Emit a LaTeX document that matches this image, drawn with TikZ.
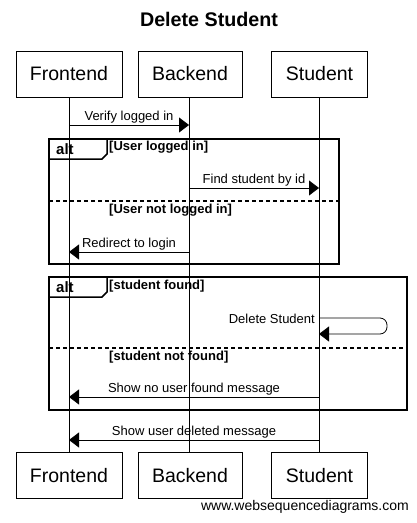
\documentclass[tikz,border=0pt]{standalone}
\usepackage{fontspec}
\setmainfont{Liberation Sans}
\usetikzlibrary{arrows.meta,positioning}

\begin{document}
\begin{tikzpicture}[x=1pt,y=-1pt,
        thin line/.style={line width=0.8pt},
        actor/.style={draw,line width=0.8pt,minimum height=46pt,inner xsep=14pt,font=\fontsize{19.5}{21}\selectfont},
        msg/.style={line width=0.8pt,-{Triangle[length=10pt,width=15pt]}},
        msg label/.style={above,inner sep=1.5pt,font=\fontsize{13}{14}\selectfont},
        frame/.style={line width=1.5pt},
        divider/.style={line width=1.5pt,dash pattern=on 4pt off 3pt},
        guard/.style={anchor=base west,inner sep=0pt,font=\bfseries\fontsize{13}{14}\selectfont}]

    \useasboundingbox (0,0) rectangle (417,523);

    \node[anchor=base,font=\bfseries\fontsize{19.7}{21}\selectfont] (title) at (209,26.5) {Delete Student};

    % participants
    \node[actor] (frontend) at (69,74) {Frontend};
    \node[actor] (backend) at (190,74) {Backend};
    \node[actor] (student) at (319.5,74) {Student};
    \node[actor] (frontend bottom) at (69,475.5) {Frontend};
    \node[actor] (backend bottom) at (190,475.5) {Backend};
    \node[actor] (student bottom) at (319.5,475.5) {Student};

    \draw[thin line] (frontend) -- (frontend bottom);
    \draw[thin line] ([xshift=-1pt]backend.south) -- ([xshift=-1pt]backend bottom.north);
    \draw[thin line] ([xshift=-0.5pt]student.south) -- ([xshift=-0.5pt]student bottom.north);

    % message end points
    \coordinate (f1) at (69,125);  \coordinate (b1) at (189,125);
    \coordinate (b2) at (189,188); \coordinate (s2) at (319,188);
    \coordinate (b3) at (189,252); \coordinate (f3) at (69,252);
    \coordinate (s4) at (319,318); \coordinate (s5) at (319,334);
    \coordinate (s6) at (319,397); \coordinate (f6) at (69,397);
    \coordinate (s7) at (319,440); \coordinate (f7) at (69,440);

    \path[msg]
    (f1) edge node[msg label] {Verify logged in} (b1);

    % first alt
    \draw[frame] (49,139) rectangle (339,264);
    \draw[frame] (49,159) -- (102,159) -- (107,154) -- (107,139);
    \node[guard,font=\bfseries\fontsize{15}{16}\selectfont] (alt1) at (56,154) {alt};
    \node[guard] (logged) at (109,150) {[User logged in]};
    \path[msg]
    (b2) edge node[msg label] {Find student by id} (s2);
    \draw[divider] (49,201) -- (339,201);
    \node[guard] (not logged) at (109,213) {[User not logged in]};
    \path[msg]
    (b3) edge node[msg label] {Redirect to login} (f3);

    % second alt
    \draw[frame] (49,277) rectangle (407,410);
    \draw[frame] (49,297) -- (102,297) -- (107,292) -- (107,277);
    \node[guard,font=\bfseries\fontsize{15}{16}\selectfont] (alt2) at (56,292) {alt};
    \node[guard] (found) at (109,289) {[student found]};
    \draw[msg,rounded corners=7pt] (s4) -- ++(68,0) -- ++(0,16) -- (s5);
    \node[anchor=base east,inner sep=0pt,font=\fontsize{13}{14}\selectfont] (delete) at (315,323) {Delete Student};
    \draw[divider] (49,348) -- (407,348);
    \node[guard] (not found) at (109,360) {[student not found]};
    \path[msg]
    (s6) edge node[msg label] {Show no user found message} (f6);

    \path[msg]
    (s7) edge node[msg label] {Show user deleted message} (f7);

    \node[anchor=base east,inner sep=0pt,font=\fontsize{14}{15}\selectfont] (site) at (409,510) {www.websequencediagrams.com};

\end{tikzpicture}
\end{document}
